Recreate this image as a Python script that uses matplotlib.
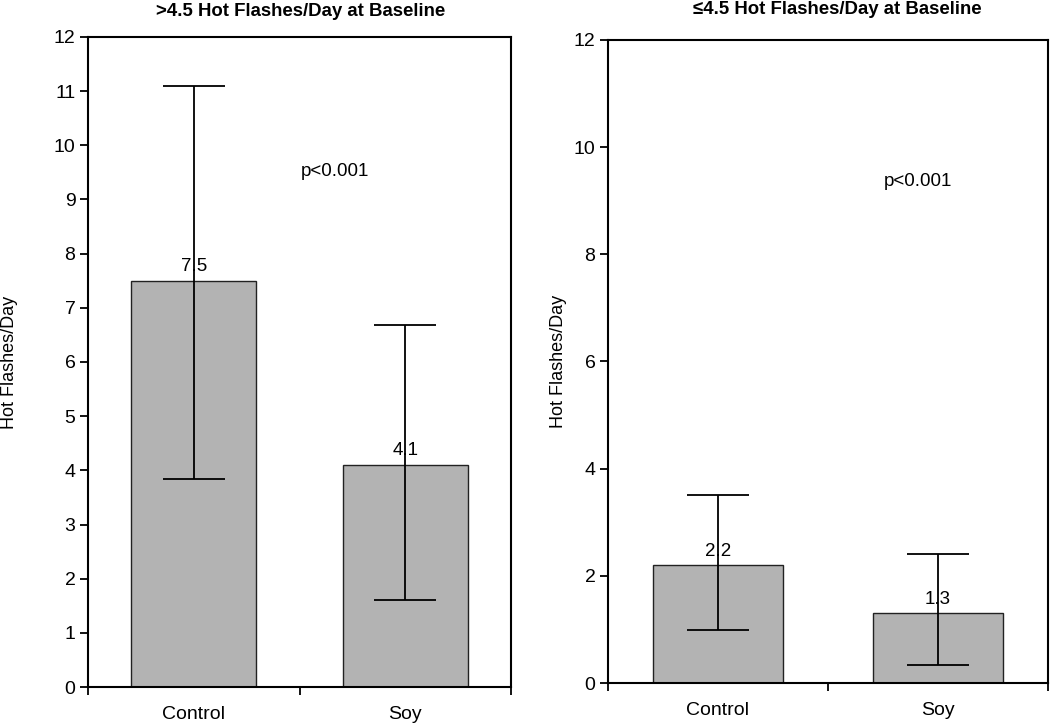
import matplotlib
matplotlib.use("Agg")
import matplotlib.pyplot as plt

plt.rcParams['font.family'] = ['Liberation Sans', 'DejaVu Sans']

categories = ["Control", "Soy"]
high_values = [7.5, 4.1]
high_upper = [11.1, 6.68]
high_lower = [3.84, 1.61]
low_values = [2.2, 1.3]
low_upper = [3.51, 2.41]
low_lower = [0.99, 0.34]
high_labels = ["7.5", "4.1"]
low_labels = ["2.2", "1.3"]
titles = [">4.5 Hot Flashes/Day at Baseline", "\u22644.5 Hot Flashes/Day at Baseline"]
ylabel = "Hot Flashes/Day"
ptext = "p<0.001"

fig = plt.figure(figsize=(10.5, 7.24), dpi=100)
ax1 = fig.add_axes([0.0838, 0.0511, 0.4029, 0.8978])
ax2 = fig.add_axes([0.579, 0.0566, 0.419, 0.8882])

def draw(ax, vals, up, lo, labels, yticks, ptxt_pos):
    x = list(range(len(categories)))
    yerr = [[v - l for v, l in zip(vals, lo)], [u - v for v, u in zip(vals, up)]]
    ax.bar(x, vals, width=0.59, color="#b3b3b3", edgecolor="#222222", linewidth=1.0, zorder=2)
    ax.errorbar(x, vals, yerr=yerr, fmt="none", ecolor="black", elinewidth=1.3,
                capsize=22, capthick=1.3, zorder=3)
    for xi, v, lab in zip(x, vals, labels):
        ax.annotate(lab, (xi, v), xytext=(0, 4), textcoords="offset points",
                    ha="center", va="bottom", fontsize=13.5, zorder=4)
    ax.set_xlim(-0.5, 1.5)
    ax.set_ylim(0, 12)
    ax.set_yticks(yticks)
    ax.set_yticklabels([str(t) for t in yticks], fontsize=14)
    ax.set_xticks(x)
    ax.set_xticklabels(categories, fontsize=14)
    ax.tick_params(axis="x", which="major", length=0, pad=14)
    ax.set_xticks([-0.5, 0.5, 1.5], minor=True)
    ax.tick_params(axis="x", which="minor", length=6, width=1.3, direction="out")
    ax.tick_params(axis="y", which="major", length=6, width=1.3, direction="out", pad=3)
    for s in ax.spines.values():
        s.set_linewidth(1.5)
        s.set_color("black")
    ax.set_ylabel(ylabel, fontsize=13)
    ax.text(ptxt_pos[0], ptxt_pos[1], ptext, ha="center", va="center", fontsize=13.5)

draw(ax1, high_values, high_upper, high_lower, high_labels,
     list(range(0, 13)), (0.668, 9.51))
draw(ax2, low_values, low_upper, low_lower, low_labels,
     list(range(0, 13, 2)), (0.909, 9.35))
ax1.yaxis.set_label_coords(-0.165, 0.5)
ax2.yaxis.set_label_coords(-0.093, 0.5)

fig.text(301 / 1050, 1 - 12 / 724, titles[0], ha="center", va="center",
         fontsize=13.4, fontweight="bold")
fig.text(837 / 1050, 1 - 10 / 724, titles[1], ha="center", va="center",
         fontsize=13.4, fontweight="bold")

fig.savefig("out.png", dpi=100)
